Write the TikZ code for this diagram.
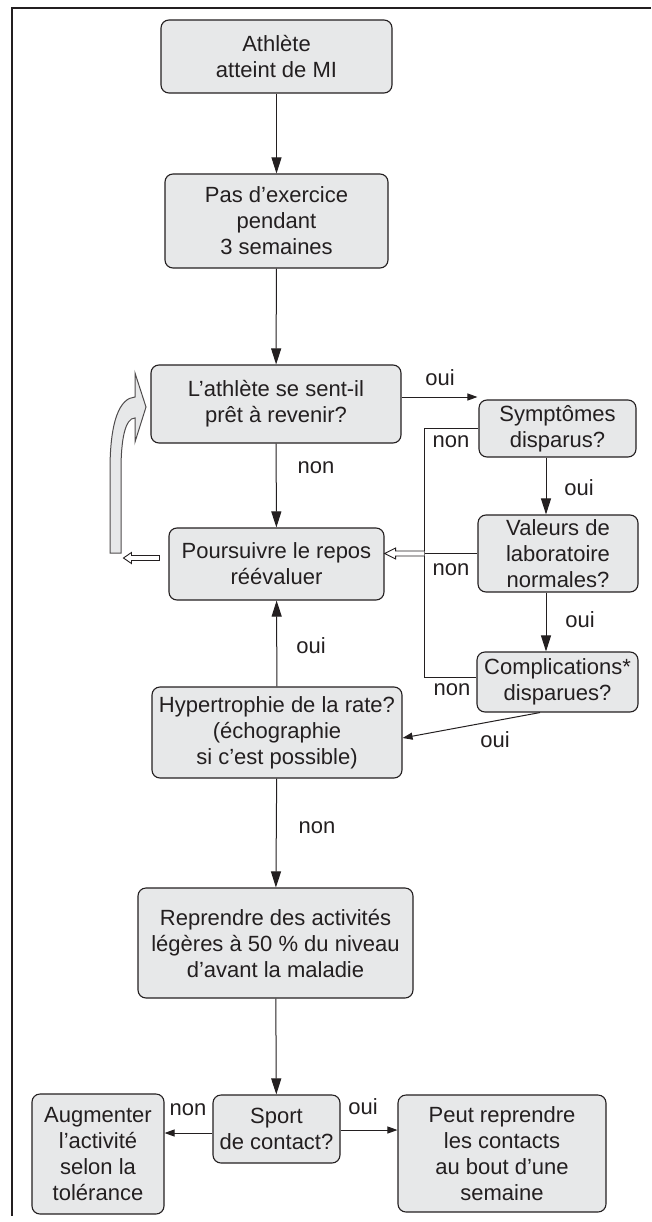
\documentclass[tikz,border=0pt]{standalone}
\usepackage{fontspec}
\setmainfont{Liberation Sans}
\usetikzlibrary{arrows.meta,calc}
\definecolor{boxfill}{RGB}{231,232,233}
\definecolor{ink}{RGB}{35,31,32}
\begin{document}
\begin{tikzpicture}[x=1pt,y=-1pt,
  box/.style={draw=ink, line width=1.1pt, fill=boxfill, rounded corners=8pt, align=center,
    inner sep=0pt, font=\fontsize{22}{26}\selectfont, text=ink},
  lbl/.style={font=\fontsize{22}{26}\selectfont, text=ink, inner sep=0pt},
  conn/.style={draw=ink, line width=1pt, -{Triangle[length=16pt,width=10pt]}},
  conns/.style={draw=ink, line width=1pt, -{Triangle[length=10pt,width=7pt]}},
  plain/.style={draw=ink, line width=1pt},
  hollow/.style={draw=ink, line width=0.9pt, fill=white, line join=miter},
  bighollow/.style={draw=ink!80, line width=1pt, fill=boxfill}
]
\useasboundingbox (0,0) rectangle (651,1222);
% frame
\draw[ink, line width=1.6pt] (651,8) -- (12,8) -- (12,1216);

% boxes
\node[box, minimum width=231pt, minimum height=73pt] (a) at (276.5,56.5) {Athlète\\atteint de MI};
\node[box, minimum width=223pt, minimum height=94pt] (b) at (276.5,221) {Pas d’exercice\\pendant\\3 semaines};
\node[box, minimum width=250pt, minimum height=78pt] (c) at (276,404) {L’athlète se sent-il\\prêt à revenir?};
\node[box, minimum width=157pt, minimum height=57pt] (s) at (557.5,428.5) {Symptômes\\disparus?};
\node[box, minimum width=160pt, minimum height=77pt] (v) at (558,553.5) {Valeurs de\\laboratoire\\normales?};
\node[box, minimum width=215pt, minimum height=72pt] (p) at (276.5,564) {Poursuivre le repos\\réévaluer};
\node[box, minimum width=161pt, minimum height=60pt] (k) at (557.5,682) {Complications*\\disparues?};
\node[box, minimum width=250pt, minimum height=91pt] (h) at (277,732.5) {Hypertrophie de la rate?\\(échographie\\si c’est possible)};
\node[box, minimum width=275pt, minimum height=110pt] (r) at (275.5,943) {Reprendre des activités\\légères à 50~\% du niveau\\d’avant la maladie};
\node[box, minimum width=127pt, minimum height=68pt] (sp) at (276.5,1129) {Sport\\de contact?};
\node[box, minimum width=132pt, minimum height=120pt] (au) at (98,1154) {Augmenter\\l’activité\\selon la\\tolérance};
\node[box, minimum width=208pt, minimum height=117pt] (pe) at (502,1153.5) {Peut reprendre\\les contacts\\au bout d’une\\semaine};

% connectors
\draw[conn] (a) -- (b);
\draw[conn] (b) -- (c);
\draw[conns] ([yshift=7pt]c.east) -- ([yshift=7pt,xshift=-1pt]c.east -| s.west);
\draw[conn] (c) -- (p);
\draw[conn] ([xshift=-11.5pt]s.south) -- ([xshift=-11.5pt]s.south |- v.north);
\draw[conn] ([xshift=-12pt]v.south) -- ([xshift=-12pt]v.south |- k.north);
\draw[plain] (s.west) -- ++(-54,0) coordinate (nt) |- ([yshift=5pt]k.west);
\draw[plain] (v.west) -- (v.west -| nt) coordinate (q);
\coordinate (qt) at (p.east |- q);
\filldraw[hollow] ($(q)+(0,-2.5)$) -- ($(qt)+(11,-2.5)$) -- ($(qt)+(11,-5.5)$) -- (qt)
  -- ($(qt)+(11,5.5)$) -- ($(qt)+(11,2.5)$) -- ($(q)+(0,2.5)$);
\draw[conns] ([xshift=-17.5pt]k.south) -- ([yshift=-5.5pt]h.east);
\draw[conn] (h) -- (p);
\draw[conn] (h) -- (r);
\draw[conn] (r) -- (sp);
\draw[conns] ([yshift=-4pt]sp.west) -- ([yshift=-4pt]sp.west -| au.east);
\draw[conns] ([yshift=-1pt]sp.east) -- ([yshift=-1pt]sp.east -| pe.west);

% small hollow arrow left of "Poursuivre"
\coordinate (lw) at ([yshift=6pt]p.west);
\filldraw[hollow] ($(lw)+(-9,-2.5)$) -- ($(lw)+(-37,-2.5)$) -- ($(lw)+(-37,-5.5)$) -- ($(lw)+(-45,0)$)
  -- ($(lw)+(-37,5.5)$) -- ($(lw)+(-37,2.5)$) -- ($(lw)+(-9,2.5)$) -- cycle;

% big curved hollow arrow back to the question
\filldraw[bighollow] (110,553) -- (110,470) .. controls (110,420) and (120,398) .. (135,397)
  -- (135,373) -- (146,407) -- (135,442) -- (135,418)
  .. controls (125,418) and (121,440) .. (121,470) -- (121,553) -- cycle;

% labels
\node[lbl] (l1) at (440,378) {oui};
\node[lbl] (l2) at (316,468) {non};
\node[lbl] (l3) at (451,442) {non};
\node[lbl] (l4) at (579,488) {oui};
\node[lbl] (l5) at (451,570) {non};
\node[lbl] (l6) at (580,620) {oui};
\node[lbl] (l7) at (452,690) {non};
\node[lbl] (l8) at (495,740) {oui};
\node[lbl] (l9) at (311,646) {oui};
\node[lbl] (l10) at (317,828) {non};
\node[lbl] (l11) at (188,1110) {non};
\node[lbl] (l12) at (363,1107) {oui};
\end{tikzpicture}
\end{document}
